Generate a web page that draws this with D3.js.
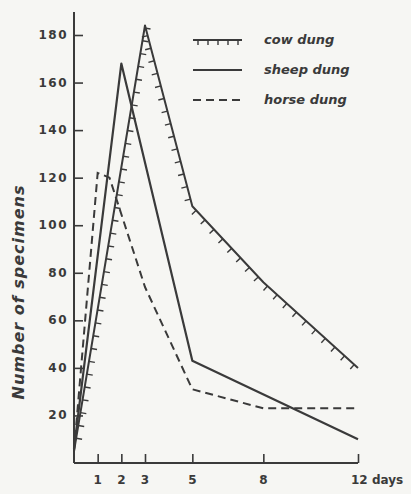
<!DOCTYPE html>
<html>
  <head>
    <title></title>
    <script src="https://cdn.jsdelivr.net/npm/d3@7"></script>
    <style>
      body { margin: 0; background: #f6f6f3; }
      svg { display: block; }
      text { font-family: "DejaVu Sans", sans-serif; fill: #3a3a3a; }
    </style>
  </head>
  <body>
    <script type="text/javascript">

    var width = 411,
        height = 494;

    // days after deposit
    var xTicks = [1, 2, 3, 5, 8, 12];
    var yTicks = [20, 40, 60, 80, 100, 120, 140, 160, 180];

    var cowDays = [0, 3, 5, 8, 12],
        cowValues = [5, 184, 108, 76, 40];

    var sheepDays = [0, 2, 5, 12],
        sheepValues = [6, 168, 43, 10];

    var horseDays = [0, 1, 1.5, 3, 5, 8, 12],
        horseValues = [5, 122, 120, 74, 31, 23, 23];

    var seriesNames = ["cow dung", "sheep dung", "horse dung"];

    var ink = "#3a3a3a";

    var x = d3.scaleLinear().domain([0, 12]).range([74, 358]);
    var y = d3.scaleLinear().domain([0, 180]).range([463, 35]);

    var svg = d3.select("body").append("svg")
        .attr("width", width)
        .attr("height", height);

    // y axis, ticks pointing inward
    var yAxis = svg.append("g")
        .attr("transform", "translate(" + x(0) + ",0)")
        .call(d3.axisRight(y).tickValues(yTicks).tickSize(9).tickFormat(""));
    yAxis.select(".domain").remove();
    yAxis.selectAll("line").attr("stroke", ink).attr("stroke-width", 1.6);
    svg.append("line")
        .attr("x1", x(0)).attr("x2", x(0))
        .attr("y1", 12).attr("y2", y(0))
        .attr("stroke", ink).attr("stroke-width", 2);

    svg.selectAll(".ylab")
        .data(yTicks).enter()
        .append("text")
        .attr("class", "ylab")
        .attr("x", 68)
        .attr("y", function(d) { return y(d) + 4; })
        .attr("text-anchor", "end")
        .style("font-size", "12px")
        .style("letter-spacing", "1.5px")
        .style("font-weight", "bold")
        .text(function(d) { return d; });

    // x axis, ticks pointing up
    var xAxis = svg.append("g")
        .attr("transform", "translate(0," + y(0) + ")")
        .call(d3.axisTop(x).tickValues(xTicks).tickSize(9).tickFormat(""));
    xAxis.select(".domain").remove();
    xAxis.selectAll("line").attr("stroke", ink).attr("stroke-width", 1.6);
    svg.append("line")
        .attr("x1", x(0)).attr("x2", x(12))
        .attr("y1", y(0)).attr("y2", y(0))
        .attr("stroke", ink).attr("stroke-width", 2);

    svg.selectAll(".xlab")
        .data(xTicks).enter()
        .append("text")
        .attr("class", "xlab")
        .attr("x", function(d) { return x(d); })
        .attr("y", 484)
        .attr("text-anchor", function(d) { return d === 12 ? "start" : "middle"; })
        .attr("dx", function(d) { return d === 12 ? -7 : 0; })
        .style("font-size", "12px")
        .style("font-weight", "bold")
        .text(function(d) { return d === 12 ? "12 days" : d; });

    svg.append("text")
        .attr("transform", "translate(24,292) rotate(-90)")
        .attr("text-anchor", "middle")
        .style("font-size", "16px")
        .style("letter-spacing", "1px")
        .style("font-style", "italic")
        .style("font-weight", "bold")
        .text("Number of specimens");

    var line = d3.line()
        .x(function(d) { return x(d[0]); })
        .y(function(d) { return y(d[1]); });

    function pairs(days, values) {
      return days.map(function(d, i) { return [d, values[i]]; });
    }

    var cowPath = svg.append("path")
        .datum(pairs(cowDays, cowValues))
        .attr("fill", "none")
        .attr("stroke", ink)
        .attr("stroke-width", 2)
        .attr("stroke-linejoin", "round")
        .attr("d", line);

    svg.append("path")
        .datum(pairs(sheepDays, sheepValues))
        .attr("fill", "none")
        .attr("stroke", ink)
        .attr("stroke-width", 2.2)
        .attr("stroke-linejoin", "round")
        .attr("d", line);

    svg.append("path")
        .datum(pairs(horseDays, horseValues))
        .attr("fill", "none")
        .attr("stroke", ink)
        .attr("stroke-width", 2)
        .attr("stroke-dasharray", "8,5")
        .attr("d", line);

    // hatch marks on the cow dung curve, on the right side of travel
    function hatch(pathNode, step, len) {
      var total = pathNode.getTotalLength(), out = [];
      for (var s = step; s < total; s += step) {
        var p0 = pathNode.getPointAtLength(Math.max(0, s - 1)),
            p1 = pathNode.getPointAtLength(Math.min(total, s + 1)),
            p = pathNode.getPointAtLength(s);
        var dx = p1.x - p0.x, dy = p1.y - p0.y, n = Math.sqrt(dx * dx + dy * dy);
        out.push([p.x, p.y, p.x - dy / n * len, p.y + dx / n * len]);
      }
      return out;
    }

    svg.selectAll(".hatch")
        .data(hatch(cowPath.node(), 13, 6)).enter()
        .append("line")
        .attr("class", "hatch")
        .attr("x1", function(d) { return d[0]; })
        .attr("y1", function(d) { return d[1]; })
        .attr("x2", function(d) { return d[2]; })
        .attr("y2", function(d) { return d[3]; })
        .attr("stroke", ink)
        .attr("stroke-width", 1.4);

    // legend
    var legend = svg.append("g");
    var rows = [40, 70, 100];

    legend.selectAll("line.key")
        .data(seriesNames).enter()
        .append("line")
        .attr("class", "key")
        .attr("x1", 193).attr("x2", 242)
        .attr("y1", function(d, i) { return rows[i]; })
        .attr("y2", function(d, i) { return rows[i]; })
        .attr("stroke", ink)
        .attr("stroke-width", 2)
        .attr("stroke-dasharray", function(d, i) { return i === 2 ? "8,5" : null; });

    legend.selectAll("line.khatch")
        .data(d3.range(198, 242, 10)).enter()
        .append("line")
        .attr("class", "khatch")
        .attr("x1", function(d) { return d; }).attr("x2", function(d) { return d; })
        .attr("y1", rows[0]).attr("y2", rows[0] + 5)
        .attr("stroke", ink)
        .attr("stroke-width", 1.4);

    legend.selectAll("text")
        .data(seriesNames).enter()
        .append("text")
        .attr("x", 264)
        .attr("y", function(d, i) { return rows[i] + 4; })
        .style("font-size", "13px")
        .style("font-style", "italic")
        .style("font-weight", "bold")
        .text(function(d) { return d; });

    </script>
  </body>
</html>
